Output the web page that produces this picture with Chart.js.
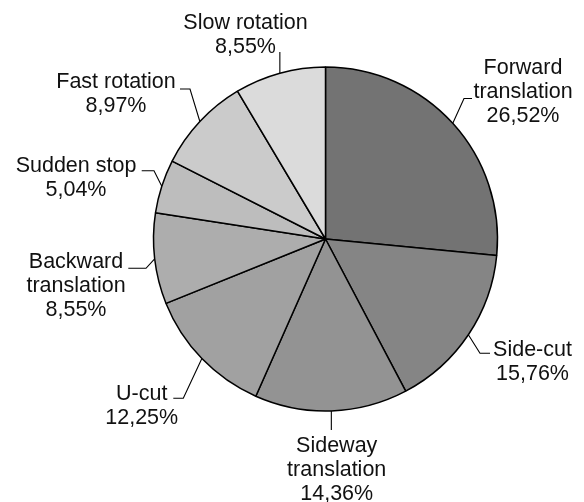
<!DOCTYPE html>
<html>
<head>
<meta charset="utf-8">
<script src="https://cdn.jsdelivr.net/npm/chart.js@4/dist/chart.umd.min.js"></script>
<style>
  html, body { margin: 0; padding: 0; background: #ffffff; }
  #wrap { width: 584px; height: 502px; }
</style>
</head>
<body>
<div id="wrap"><canvas id="pie" width="584" height="502"></canvas></div>
<script>
// Share of each movement type (percent), clockwise from 12 o'clock
const categories = [
  'Forward translation',
  'Side-cut',
  'Sideway translation',
  'U-cut',
  'Backward translation',
  'Sudden stop',
  'Fast rotation',
  'Slow rotation'
];
const shares = [26.52, 15.76, 14.36, 12.25, 8.55, 5.04, 8.97, 8.55];
const greys = ['#737373', '#858585', '#939393', '#a1a1a1', '#adadad', '#bdbdbd', '#cbcbcb', '#dbdbdb'];

// Label placement, in pixels relative to the pie centre:
// elbow/end = leader line bend and end, text = [centre x, first baseline y], split = break name onto lines
const labelLayout = [
  { elbow: [138.5, -140.5], end: [146.5, -140.5], text: [197.5, -165], split: true },
  { elbow: [154.5, 114.3], end: [164.5, 114.3], text: [207, 117], split: false },
  { elbow: [null, 191], end: [null, 191], text: [11.2, 212.7], split: true },
  { elbow: [-142.2, 159.3], end: [-152.2, 159.3], text: [-183.8, 161], split: false },
  { elbow: [-179.5, 29.3], end: [-197.2, 29.3], text: [-249.5, 29.3], split: true },
  { elbow: [-171.5, -68.3], end: [-183.8, -68.3], text: [-249.5, -67.3], split: false },
  { elbow: [-135.5, -150], end: [-145.5, -150], text: [-209.5, -151.3], split: false },
  { elbow: [null, -187], end: [null, -187], text: [-80, -209.7], split: false }
];

const LABEL_FONT = '21.5px "Liberation Sans", Arial, Helvetica, sans-serif';
const LINE_H = 24;

const fmt = v => v.toFixed(2).replace('.', ',') + '%';

const outsideLabels = {
  id: 'outsideLabels',
  afterDatasetsDraw(chart) {
    const ctx = chart.ctx;
    const meta = chart.getDatasetMeta(0);
    ctx.save();
    ctx.font = LABEL_FONT;
    ctx.fillStyle = '#111111';
    ctx.textAlign = 'center';
    ctx.textBaseline = 'alphabetic';
    meta.data.forEach((arc, i) => {
      const lay = labelLayout[i];
      const cx = arc.x, cy = arc.y;
      const mid = (arc.startAngle + arc.endAngle) / 2;
      const ex = cx + Math.cos(mid) * arc.outerRadius;
      const ey = cy + Math.sin(mid) * arc.outerRadius;
      const bx = lay.elbow[0] === null ? ex : cx + lay.elbow[0];
      const by = cy + lay.elbow[1];
      const tx = lay.end[0] === null ? bx : cx + lay.end[0];
      const ty = cy + lay.end[1];
      ctx.beginPath();
      ctx.strokeStyle = '#000000';
      ctx.lineWidth = 1.1;
      ctx.moveTo(ex, ey);
      ctx.lineTo(bx, by);
      ctx.lineTo(tx, ty);
      ctx.stroke();

      const name = categories[i];
      const lines = lay.split ? name.split(' ') : [name];
      lines.push(fmt(shares[i]));
      lines.forEach((ln, k) => {
        ctx.fillText(ln, cx + lay.text[0], cy + lay.text[1] + k * LINE_H);
      });
    });
    ctx.restore();
  }
};

new Chart(document.getElementById('pie'), {
  type: 'pie',
  data: {
    labels: categories,
    datasets: [{
      data: shares,
      backgroundColor: greys,
      borderColor: '#000000',
      borderWidth: 1.5,
      hoverOffset: 0
    }]
  },
  options: {
    responsive: false,
    animation: false,
    radius: 172,
    layout: { padding: { left: 67, right: 0, top: 0, bottom: 24 } },
    plugins: {
      legend: { display: false },
      tooltip: { enabled: false }
    }
  },
  plugins: [outsideLabels]
});
</script>
</body>
</html>
